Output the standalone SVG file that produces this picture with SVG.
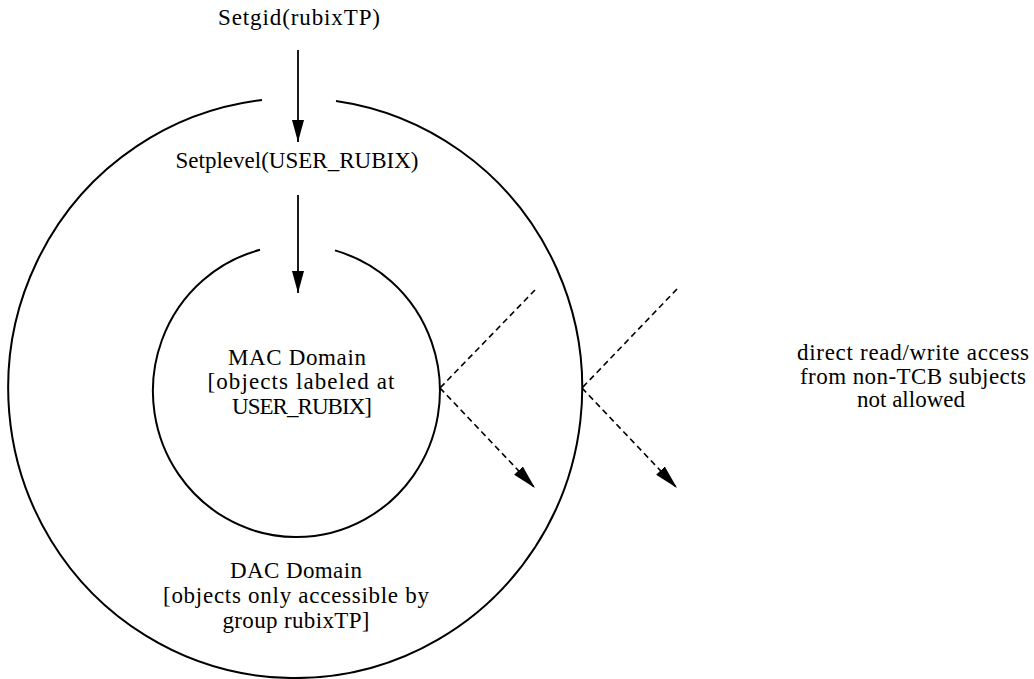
<svg xmlns="http://www.w3.org/2000/svg" width="1034" height="679" viewBox="0 0 1034 679">
  <style>
    .ring { fill: none; stroke: #000; stroke-width: 2; }
    .flow { fill: none; stroke: #000; stroke-width: 1.8; }
    .deny { fill: none; stroke: #000; stroke-width: 1.6; stroke-dasharray: 6 4; }
    text { font-family: "Liberation Serif", "Times New Roman", serif; font-size: 23px; fill: #000; text-anchor: middle; }
  </style>
  <defs>
    <marker id="head" viewBox="0 0 22 12" refX="22" refY="6" markerWidth="22" markerHeight="12" markerUnits="userSpaceOnUse" orient="auto">
      <path d="M0,0 L22,6 L0,12 Z" fill="#000"/>
    </marker>
    <marker id="headDashed" viewBox="0 0 24 12" refX="24" refY="6" markerWidth="24" markerHeight="12" markerUnits="userSpaceOnUse" orient="auto">
      <path d="M0,0 L24,6 L0,12 Z" fill="#000"/>
    </marker>
  </defs>

  <!-- outer ring: DAC domain, open at the top -->
  <g id="dac-domain">
    <path class="ring" d="M336,101 A287,290 0 1 1 262,100"/>
    <text x="296" y="578" textLength="132" lengthAdjust="spacing">DAC Domain</text>
    <text x="296" y="603" textLength="266" lengthAdjust="spacing">[objects only accessible by</text>
    <text x="296" y="628" textLength="147" lengthAdjust="spacing">group rubixTP]</text>
  </g>

  <!-- inner ring: MAC domain, open at the top -->
  <g id="mac-domain">
    <path class="ring" d="M335,250.4 A143.5,146 0 1 1 260,249.8"/>
    <text x="297" y="365" textLength="138" lengthAdjust="spacing">MAC Domain</text>
    <text x="301" y="389" textLength="187" lengthAdjust="spacing">[objects labeled at</text>
    <text x="302" y="414" textLength="140" lengthAdjust="spacing">USER_RUBIX]</text>
  </g>

  <g id="setgid">
    <text x="299" y="25" textLength="162" lengthAdjust="spacing">Setgid(rubixTP)</text>
  </g>

  <g id="setplevel">
    <text x="297" y="168" textLength="243" lengthAdjust="spacing">Setplevel(USER_RUBIX)</text>
  </g>

  <g id="denied-access">
    <text x="913" y="360" textLength="232" lengthAdjust="spacing">direct read/write access</text>
    <text x="913" y="384" textLength="226" lengthAdjust="spacing">from non-TCB subjects</text>
    <text x="911" y="407" textLength="108" lengthAdjust="spacing">not allowed</text>
  </g>

  <!-- connectors -->
  <g id="connectors">
    <line class="flow" x1="298" y1="50" x2="298" y2="142" marker-end="url(#head)"/>
    <line class="flow" x1="298" y1="195" x2="298" y2="293" marker-end="url(#head)"/>

    <!-- deflected access at the MAC boundary -->
    <line class="deny" x1="535" y1="290" x2="440" y2="388"/>
    <line class="deny" x1="440" y1="388" x2="535" y2="488" marker-end="url(#headDashed)"/>

    <!-- deflected access at the DAC boundary -->
    <line class="deny" x1="677" y1="289" x2="582" y2="388"/>
    <line class="deny" x1="582" y1="388" x2="677" y2="488" marker-end="url(#headDashed)"/>
  </g>
</svg>
